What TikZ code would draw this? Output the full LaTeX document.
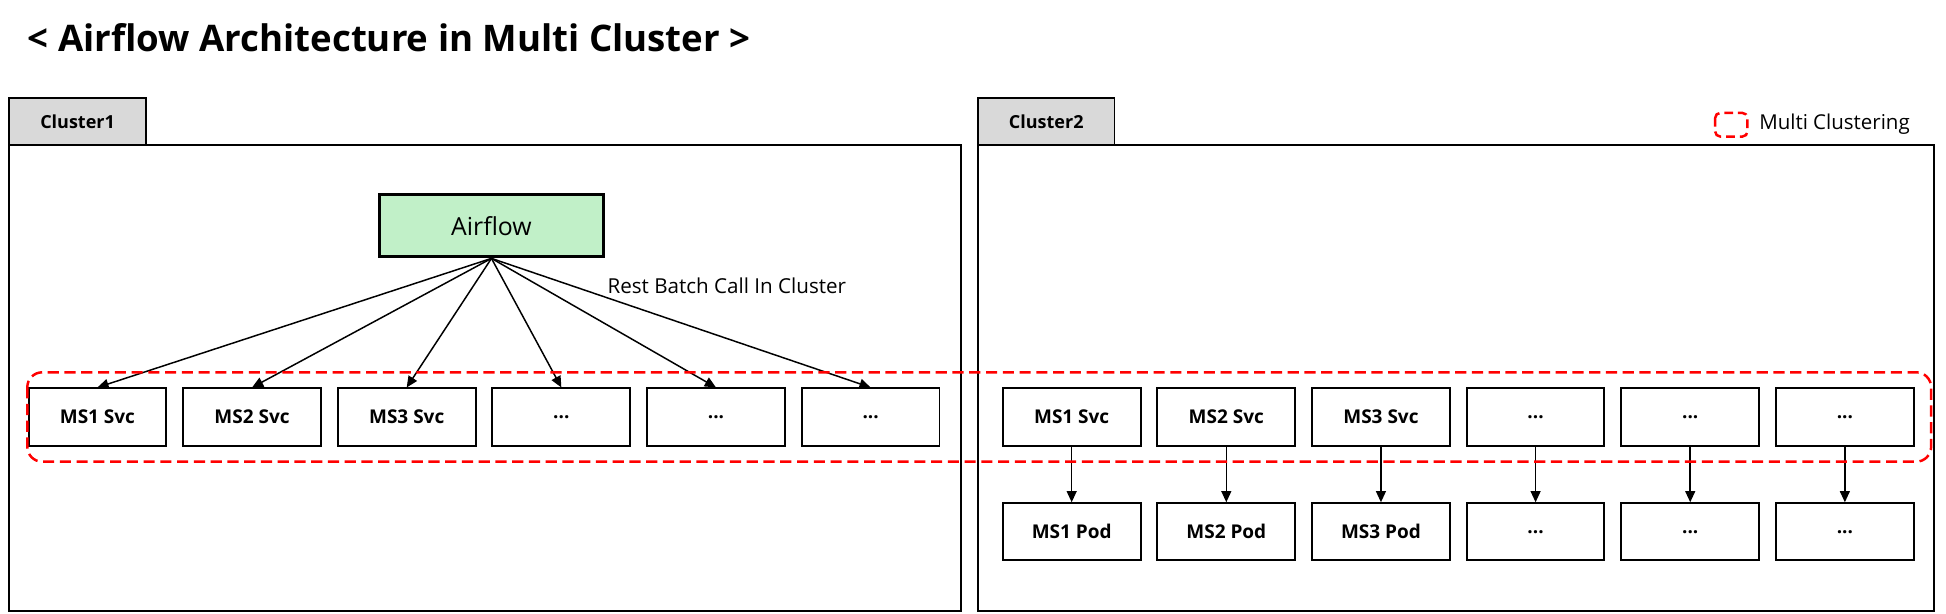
\documentclass[tikz,border=0pt]{standalone}
\usepackage{fontspec}
\setmainfont{Open Sans}
\usetikzlibrary{arrows.meta}
\definecolor{tabgray}{RGB}{217,217,217}
\definecolor{airgreen}{RGB}{193,240,200}
\tikzset{
	frame/.style={line width=1.6pt,draw=black},
	tabbox/.style={draw=black,line width=1.6pt,fill=tabgray,minimum width=111pt,minimum height=38pt,inner sep=0pt,font=\fontsize{14.5}{17}\selectfont\bfseries},
	svc/.style={draw=black,line width=1.6pt,fill=white,minimum width=111pt,minimum height=46pt,inner sep=0pt,font=\fontsize{15.3}{18}\selectfont\bfseries},
	call/.style={line width=1.2pt,-{Triangle[length=9pt,width=8pt]}},
	multi/.style={draw=red,line width=2pt,dash pattern=on 9pt off 4.5pt},
}
\begin{document}
\begin{tikzpicture}[x=1pt,y=-1pt]
	\useasboundingbox (0,0) rectangle (1568,494);

	\node[anchor=west,font=\fontsize{29.5}{35}\selectfont\bfseries] (title) at (19,30) {< Airflow Architecture in Multi Cluster >};

	%cluster 1
	\draw[frame](7,117) rectangle (774,492);
	\node[tabbox] (tab1) at (62.5,98) {Cluster1};

	%cluster 2
	\draw[frame](788,117) rectangle (1558,492);
	\node[tabbox,minimum width=110pt] (tab2) at (843,98) {Cluster2};

	%legend
	\draw[multi][rounded corners=4pt,dash pattern=on 7pt off 4pt](1382,91) rectangle (1408,110);
	\node[anchor=west,font=\fontsize{16.5}{19}\selectfont] (legend) at (1414,100) {Multi Clustering};

	\node[draw=black,line width=2.4pt,fill=airgreen,minimum width=180pt,minimum height=50pt,inner sep=0pt,font=\fontsize{20}{24}\selectfont] (air) at (396,182) {Airflow};
	\node[anchor=west,font=\fontsize{16.6}{19}\selectfont] (rest) at (486,230) {Rest Batch Call In Cluster};

	\node[svc] (c1s1) at (78.5,336) {MS1 Svc};
	\node[svc] (c1s2) at (203.1,336) {MS2 Svc};
	\node[svc] (c1s3) at (327.7,336) {MS3 Svc};
	\node[svc] (c1s4) at (452.3,336) {...};
	\node[svc] (c1s5) at (576.9,336) {...};
	\node[svc] (c1s6) at (701.5,336) {...};

	\node[svc] (c2s1) at (863.5,336) {MS1 Svc};
	\node[svc] (c2s2) at (988.1,336) {MS2 Svc};
	\node[svc] (c2s3) at (1112.7,336) {MS3 Svc};
	\node[svc] (c2s4) at (1237.3,336) {...};
	\node[svc] (c2s5) at (1361.9,336) {...};
	\node[svc] (c2s6) at (1486.5,336) {...};

	\node[svc] (c2p1) at (863.5,428.5) {MS1 Pod};
	\node[svc] (c2p2) at (988.1,428.5) {MS2 Pod};
	\node[svc] (c2p3) at (1112.7,428.5) {MS3 Pod};
	\node[svc] (c2p4) at (1237.3,428.5) {...};
	\node[svc] (c2p5) at (1361.9,428.5) {...};
	\node[svc] (c2p6) at (1486.5,428.5) {...};

	\draw[call](air.south)--(c1s1.north);
	\draw[call](air.south)--(c1s2.north);
	\draw[call](air.south)--(c1s3.north);
	\draw[call](air.south)--(c1s4.north);
	\draw[call](air.south)--(c1s5.north);
	\draw[call](air.south)--(c1s6.north);

	\draw[call](c2s1)--(c2p1);
	\draw[call](c2s2)--(c2p2);
	\draw[call](c2s3)--(c2p3);
	\draw[call](c2s4)--(c2p4);
	\draw[call](c2s5)--(c2p5);
	\draw[call](c2s6)--(c2p6);

	%multi clustering
	\draw[multi][rounded corners=12pt](22,300) rectangle (1556,372);

\end{tikzpicture}
\end{document}
